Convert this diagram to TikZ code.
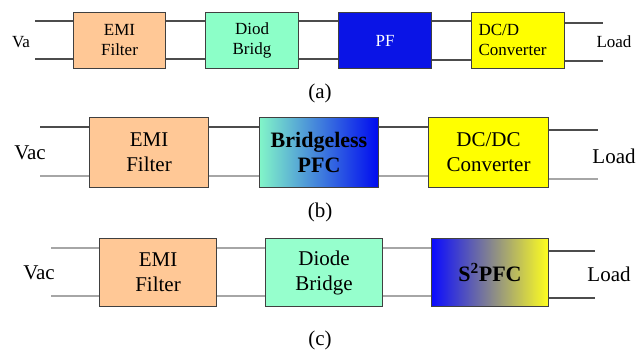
\documentclass[tikz,border=0pt]{standalone}
\usepackage{fontspec}
\setmainfont{Liberation Serif}
\begin{document}
\begin{tikzpicture}[x=1pt,y=-1pt,
  blk/.style={draw=black!75,line width=1pt,inner sep=0pt,anchor=north west},
  wire/.style={line width=1.3pt,draw=black!70},
  wirelt/.style={line width=1.3pt,draw=black!35},
  fa/.style={font=\fontsize{17}{20}\selectfont,align=center},
  fb/.style={font=\fontsize{21}{25}\selectfont,align=center},
  fbb/.style={font=\fontsize{22}{25}\selectfont\bfseries,align=center},
  captxt/.style={font=\fontsize{21}{24}\selectfont}]
\useasboundingbox (0,0) rectangle (643,352);
% ---------- (a)
\node[blk,fill={rgb,255:red,255;green,200;blue,150},minimum width=92pt,minimum height=56pt] (emiA) at (73,12) {};
\node[blk,fill={rgb,255:red,140;green,255;blue,200},minimum width=93pt,minimum height=56pt] (dioA) at (205,12) {};
\node[blk,fill={rgb,255:red,10;green,20;blue,230},minimum width=93pt,minimum height=56pt] (pfA) at (338,12) {};
\node[blk,fill={rgb,255:red,255;green,255;blue,0},minimum width=93pt,minimum height=56pt] (dcA) at (471,12) {};
\node[fa] (emiAt) at (emiA.center) {EMI\\Filter};
\node[fa] (dioAt) at (dioA.center) {Diod\\Bridg};
\node[fa,text=white] (pfAt) at (pfA.center) {PF};
\node[fa,align=left,anchor=west] (dcAt) at (475,40) {DC/D\\Converter};
\coordinate (aLT) at (35,21); \coordinate (aLB) at (35,59);
\coordinate (aRT) at (603,23); \coordinate (aRB) at (603,61);
\draw[wire] (aLT) -- (emiA.west |- aLT);
\draw[wire] (aLB) -- (emiA.west |- aLB);
\draw[wire] (emiA.east |- aLT) -- (dioA.west |- aLT);
\draw[wire] (emiA.east |- aLB) -- (dioA.west |- aLB);
\draw[wire] (dioA.east |- aLT) -- (pfA.west |- aLT);
\draw[wire] (dioA.east |- aLB) -- (pfA.west |- aLB);
\draw[wire] (pfA.east |- aLT) -- (dcA.west |- aLT);
\draw[wire] (pfA.east |- 0,60) -- (dcA.west |- 0,60);
\draw[wire] (dcA.east |- aRT) -- (aRT);
\draw[wire] (dcA.east |- aRB) -- (aRB);
\node[fa] (va) at (21,42) {Va};
\node[fa] (loadA) at (614,42) {Load};
\node[captxt] (capA) at (320,93) {(a)};
% ---------- (b)
\node[blk,fill={rgb,255:red,255;green,200;blue,150},minimum width=119pt,minimum height=70pt] (emiB) at (89,117) {};
\node[blk,left color={rgb,255:red,130;green,245;blue,200},right color={rgb,255:red,0;green,10;blue,240},minimum width=119pt,minimum height=70pt] (brB) at (259,117) {};
\node[blk,fill={rgb,255:red,255;green,255;blue,0},minimum width=120pt,minimum height=70pt] (dcB) at (428,117) {};
\node[fb] (emiBt) at (emiB.center) {EMI\\Filter};
\node[fbb] (brBt) at (brB.center) {Bridgeless\\PFC};
\node[fb] (dcBt) at (dcB.center) {DC/DC\\Converter};
\coordinate (bLT) at (40,127); \coordinate (bLB) at (40,176);
\coordinate (bRT) at (598,130); \coordinate (bRB) at (598,179);
\draw[wire] (bLT) -- (emiB.west |- bLT);
\draw[wirelt] (bLB) -- (emiB.west |- bLB);
\draw[wire] (emiB.east |- bLT) -- (brB.west |- bLT);
\draw[wirelt] (emiB.east |- bLB) -- (brB.west |- bLB);
\draw[wire] (brB.east |- bLT) -- (dcB.west |- bLT);
\draw[wirelt] (brB.east |- bLB) -- (dcB.west |- bLB);
\draw[wire] (dcB.east |- bRT) -- (bRT);
\draw[wirelt] (dcB.east |- bRB) -- (bRB);
\node[fb] (vacB) at (30,153) {Vac};
\node[fb] (loadB) at (614,156) {Load};
\node[captxt] (capB) at (320,212) {(b)};
% ---------- (c)
\node[blk,fill={rgb,255:red,255;green,200;blue,150},minimum width=117pt,minimum height=68pt] (emiC) at (99,238) {};
\node[blk,fill={rgb,255:red,150;green,255;blue,205},minimum width=117pt,minimum height=68pt] (dioC) at (265,238) {};
\node[blk,left color={rgb,255:red,10;green,10;blue,255},middle color={rgb,255:red,200;green,200;blue,160},right color={rgb,255:red,255;green,255;blue,30},minimum width=117pt,minimum height=68pt] (spC) at (431,238) {};
\node[fb] (emiCt) at (emiC.center) {EMI\\Filter};
\node[fb] (dioCt) at (dioC.center) {Diode\\Bridge};
\node[fbb] (spCt) at (spC.center) {S\textsuperscript{2}PFC};
\coordinate (cLT) at (51,248); \coordinate (cLB) at (51,296);
\coordinate (cRT) at (595,251); \coordinate (cRB) at (595,298);
\draw[wirelt] (cLT) -- (emiC.west |- cLT);
\draw[wirelt] (cLB) -- (emiC.west |- cLB);
\draw[wirelt] (emiC.east |- cLT) -- (dioC.west |- cLT);
\draw[wirelt] (emiC.east |- cLB) -- (dioC.west |- cLB);
\draw[wirelt] (dioC.east |- cLT) -- (spC.west |- cLT);
\draw[wirelt] (dioC.east |- cLB) -- (spC.west |- cLB);
\draw[wire] (spC.east |- cRT) -- (cRT);
\draw[wire] (spC.east |- cRB) -- (cRB);
\node[fb] (vacC) at (39,273) {Vac};
\node[fb] (loadC) at (609,274) {Load};
\node[captxt] (capC) at (320,340) {(c)};
\end{tikzpicture}
\end{document}
